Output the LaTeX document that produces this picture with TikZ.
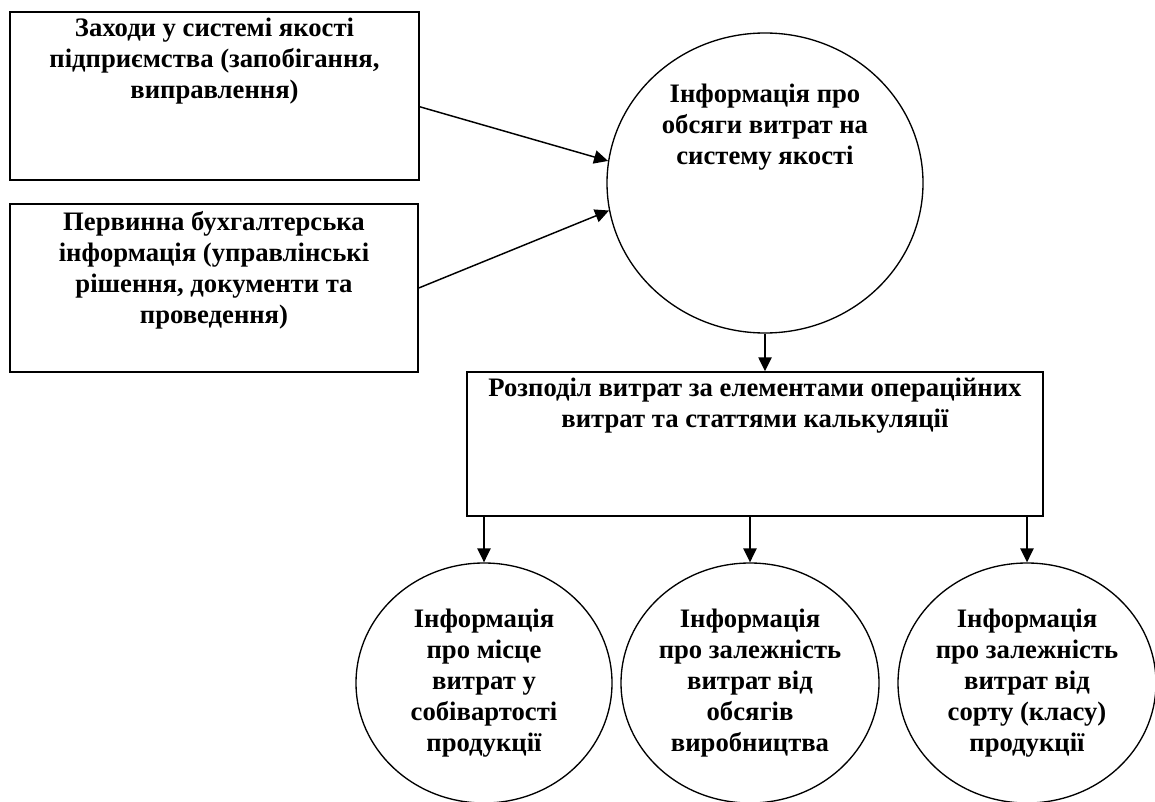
\documentclass[tikz,border=0pt]{standalone}
\usepackage{fontspec}
\setmainfont{Liberation Serif}
\usetikzlibrary{shapes.geometric,arrows.meta}

\tikzset{
  txt/.style={align=center,font=\fontsize{20}{23.25}\selectfont\bfseries,inner sep=0pt},
  box/.style={draw,line width=1.1pt,rectangle,inner sep=0pt},
  oval/.style={draw,line width=1pt,ellipse,inner sep=0pt},
  smalloval/.style={oval,txt,minimum width=192pt,minimum height=180pt},
  arr/.style={-{Triangle[length=10.5pt,width=10pt]},line width=1.1pt},
}

\begin{document}
\begin{tikzpicture}[x=0.75pt,y=-0.75pt]
    \clip (0,0) rectangle (1155,802);

    \node[box,minimum width=306.75pt,minimum height=126pt] (zaxody) at (214.5,96) {};
    \node[txt] (zaxodytxt) at (214.5,61) {Заходи у системі якості\\ підприємства (запобігання,\\ виправлення)};

    \node[box,minimum width=306pt,minimum height=126pt] (pervynna) at (214,288) {};
    \node[txt] (pervynnatxt) at (214,270) {Первинна бухгалтерська\\ інформація (управлінські\\ рішення, документи та\\ проведення)};

    \node[oval,minimum width=237pt,minimum height=225pt] (obsyagy) at (765,183) {};
    \node[txt] (obsyagytxt) at (765,127) {Інформація про\\ обсяги витрат на\\ систему якості};

    \node[box,minimum width=432pt,minimum height=108pt] (rozpodil) at (755,444) {};
    \node[txt] (rozpodiltxt) at (755,406) {Розподіл витрат за елементами операційних\\ витрат та статтями калькуляції};

    \node[smalloval] (misce) at (484,683) {Інформація\\ про місце\\ витрат у\\ собівартості\\ продукції};
    \node[smalloval] (obsyagvyr) at (750,683) {Інформація\\ про залежність\\ витрат від\\ обсягів\\ виробництва};
    \node[smalloval] (sort) at (1027,683) {Інформація\\ про залежність\\ витрат від\\ сорту (класу)\\ продукції};

    \draw[arr] (zaxody.-3.4) -- (obsyagy.172.7);
    \draw[arr] (pervynna.0.8) -- (obsyagy.190.9);
    \draw[arr] (obsyagy) -- (rozpodil.north -| obsyagy);
    \draw[arr] (rozpodil.south -| misce) -- (misce);
    \draw[arr] (rozpodil.south -| obsyagvyr) -- (obsyagvyr);
    \draw[arr] (rozpodil.south -| sort) -- (sort);
\end{tikzpicture}
\end{document}
